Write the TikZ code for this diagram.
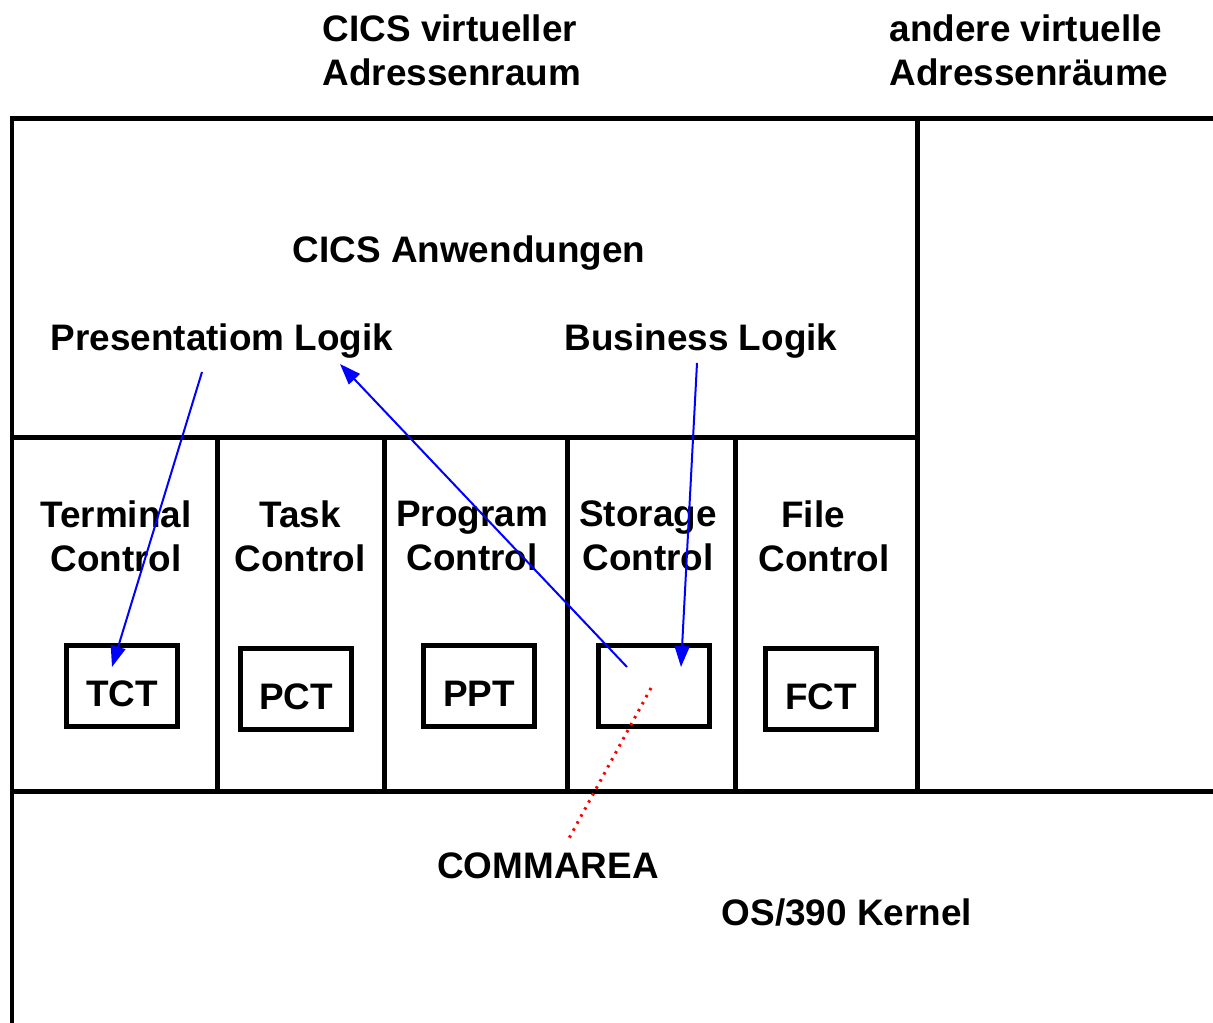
\documentclass[tikz,border=0pt]{standalone}
\usepackage{fontspec}
\setmainfont{Liberation Sans}
\usetikzlibrary{arrows.meta, positioning}
\tikzset{>={Triangle[length=0.42cm,width=0.3cm]},
    x=0.02cm, y=-0.02cm,
    frame/.style={draw, line width=0.1cm, line cap=rect},
    label/.style={font=\fontsize{21}{25}\selectfont\bfseries, inner sep=0pt},
    table/.style={draw, line width=0.1cm, minimum width=2.22cm,
        minimum height=1.62cm, inner sep=0pt, text height=0.82cm, text depth=0pt,
        font=\fontsize{21}{25}\selectfont\bfseries},
    call/.style={->, blue, line width=0.04cm},
    link/.style={red, line width=0.06cm, dash pattern=on 0.05cm off 0.11cm}}
\begin{document}
\begin{tikzpicture}
\useasboundingbox (0,0) rectangle (1213,1023);

% address spaces
\draw[frame] (12,119) -- (1213,119);
\draw[frame] (12,119) -- (12,1023);
\draw[frame] (917,119) -- (917,791);
\draw[frame] (12,438) -- (917,438);
\draw[frame] (12,791) -- (1213,791);
\foreach \x in {217,384,567,735}
    \draw[frame] (\x,438) -- (\x,791);

% headings
\node[label, align=left] (cics)  at (452,50)  {CICS virtueller\\Adressenraum};
\node[label, align=left] (other) at (1029,50) {andere virtuelle\\Adressenräume};
\node[label] (apps)  at (469,253) {CICS Anwendungen};
\node[label] (plog)  at (222,341) {Presentatiom Logik};
\node[label] (blog)  at (701,341) {Business Logik};

% control modules
\node[label, align=center] (term)  at (116,536) {Terminal\\Control};
\node[label, align=center] (task)  at (300,536) {Task\\Control};
\node[label, align=center] (prog)  at (472,536) {Program\\Control};
\node[label, align=center] (stor)  at (648,536) {Storage\\Control};
\node[label, align=center] (file)  at (824,536) {File\hspace*{0.44cm}\\Control};

% tables
\node[table] (tct)  at (122,686) {TCT};
\node[table] (pct)  at (296,689) {PCT};
\node[table] (ppt)  at (479,686) {PPT};
\node[table] (comm) at (654,686) {};
\node[table] (fct)  at (821,689) {FCT};

\node[label] (area)   at (548,866) {COMMAREA};
\node[label] (kernel) at (847,912) {OS/390 Kernel};

% calls
\coordinate (plog-out) at (202,372);
\coordinate (plog-in)  at (340,364);
\coordinate (blog-out) at (697,363);
\coordinate (tct-in)   at (112,667);
\coordinate (comm-in)  at (681,667);
\coordinate (comm-out) at (627,667);
\coordinate (comm-mid) at (651,688);
\coordinate (area-in)  at (567,842);

\draw[call] (plog-out) -- (tct-in);
\draw[call] (comm-out) -- (plog-in);
\draw[call] (blog-out) -- (comm-in);
\draw[link] (comm-mid) -- (area-in);
\end{tikzpicture}
\end{document}
